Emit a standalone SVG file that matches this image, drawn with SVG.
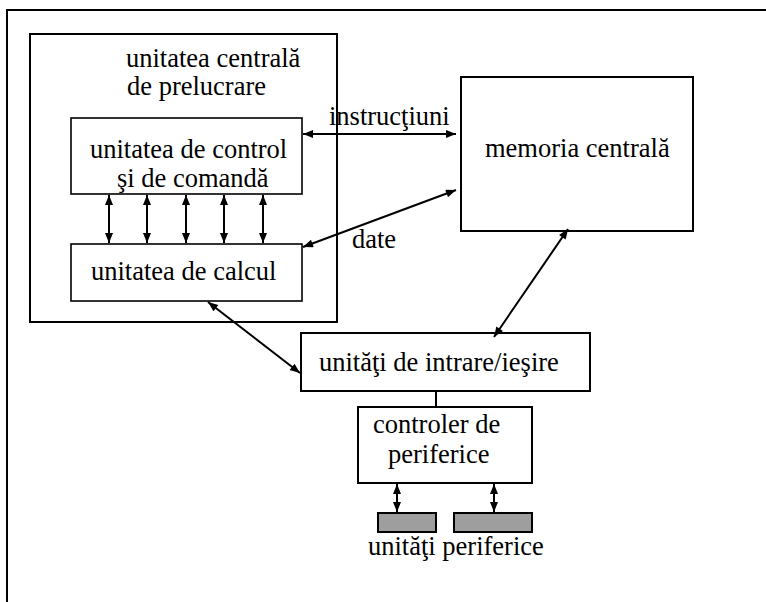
<svg xmlns="http://www.w3.org/2000/svg" width="766" height="602" viewBox="0 0 766 602">
<style>
text{font-family:"Liberation Serif","Times New Roman",serif;font-size:26.5px;fill:#000}
.box{fill:#fff;stroke:#000;stroke-width:2}
.thin{fill:#fff;stroke:#000;stroke-width:1.6}
.per{fill:#9e9e9e;stroke:#000;stroke-width:2}
.c{stroke:#000;stroke-width:2;fill:none}
.a{marker-start:url(#ah);marker-end:url(#ah)}
</style>
<defs>
<marker id="ah" viewBox="0 0 10 8" refX="10" refY="4" markerWidth="11" markerHeight="8" markerUnits="userSpaceOnUse" orient="auto-start-reverse">
<path d="M0,0L10,4L0,8z" fill="#000"/>
</marker>
</defs>
<rect width="766" height="602" fill="#fff"/>
<g id="frame"><rect x="7" y="10" width="800" height="640" fill="none" stroke="#000" stroke-width="2"/></g>
<g id="cpu"><rect class="box" x="30" y="34" width="307" height="288"/>
<text x="126" y="67">unitatea centrală</text>
<text x="127" y="95">de prelucrare</text></g>
<g id="control"><rect class="thin" x="71" y="118" width="231" height="76"/>
<text x="90" y="158">unitatea de control</text>
<text x="117" y="187">şi de comandă</text></g>
<g id="calcul"><rect class="thin" x="71" y="244" width="231" height="57"/>
<text x="91" y="280">unitatea de calcul</text></g>
<g id="memorie"><rect class="box" x="461" y="77" width="232" height="154" stroke-width="2.5"/>
<text x="485" y="157">memoria centrală</text></g>
<g id="io"><rect class="box" x="301" y="333" width="289" height="58"/>
<text x="319" y="371">unităţi de intrare/ieşire</text></g>
<g id="controler"><rect class="box" x="358" y="407" width="174" height="76"/>
<text x="373" y="433">controler de</text>
<text x="388" y="463">periferice</text></g>
<g id="periferice"><rect class="per" x="378" y="513" width="58" height="19"/>
<rect class="per" x="454" y="513" width="78" height="19"/>
<text x="368" y="555">unităţi periferice</text></g>
<g id="labels"><text x="329" y="125">instrucţiuni</text>
<text x="352" y="248">date</text></g>
<g id="connectors">
<line class="c a" x1="109" y1="195" x2="109" y2="243"/>
<line class="c a" x1="147" y1="195" x2="147" y2="243"/>
<line class="c a" x1="186" y1="195" x2="186" y2="243"/>
<line class="c a" x1="224" y1="195" x2="224" y2="243"/>
<line class="c a" x1="263" y1="195" x2="263" y2="243"/>
<line class="c a" x1="303" y1="134" x2="456" y2="134"/>
<line class="c a" x1="303" y1="247" x2="456" y2="190"/>
<line class="c a" x1="568" y1="229" x2="494" y2="337"/>
<line class="c a" x1="208" y1="302" x2="300" y2="373"/>
<line class="c" x1="436" y1="391" x2="436" y2="407"/>
<line class="c a" x1="397" y1="484" x2="397" y2="512"/>
<line class="c a" x1="494" y1="484" x2="494" y2="512"/>
</g>
</svg>
